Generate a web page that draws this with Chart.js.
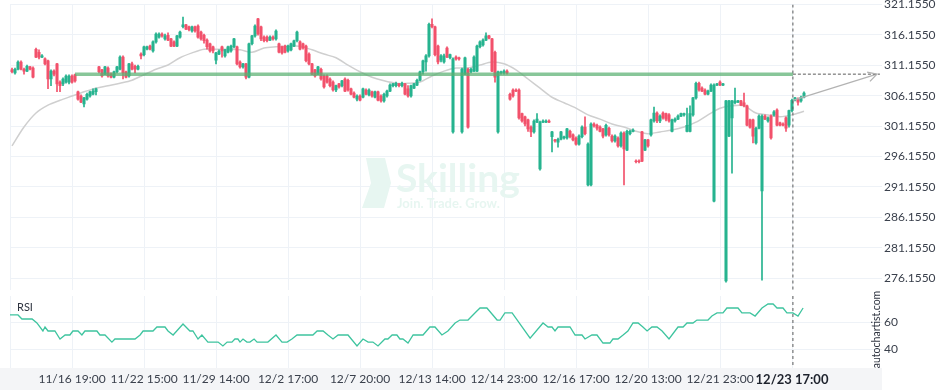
<!DOCTYPE html>
<html>
<head>
<meta charset="utf-8">
<script src="https://cdn.jsdelivr.net/npm/chart.js@4.4.0/dist/chart.umd.min.js"></script>
<style>
  html, body { margin: 0; padding: 0; background: #fff; overflow: hidden; }
  #wrap { position: relative; width: 936px; height: 390px; overflow: hidden; }
  #mainBox { position: absolute; left: 0; top: -10px; width: 936px; height: 300px; }
  #rsiBox { position: absolute; left: 0; top: 290px; width: 936px; height: 100px; }
</style>
</head>
<body>
<div id="wrap">
  <div id="mainBox"><canvas id="main"></canvas></div>
  <div id="rsiBox"><canvas id="rsi"></canvas></div>
</div>
<script>
// time axis labels, one every 24 candles
const timeLabels = ['11/16 19:00', '11/22 15:00', '11/29 14:00', '12/2 17:00', '12/7 20:00', '12/13 14:00',
  '12/14 23:00', '12/16 17:00', '12/20 13:00', '12/21 23:00', '12/23 17:00'];
const labelStep = 24;
const firstCandle = -20;   // index of first candle, label 0 sits at index 0

const open = [
  310.4, 309.9, 310.5, 311.7, 310.5, 310.2, 310.9, 310.7, 313.8, 313.3,
  312.5, 312.2, 311.9, 308.9, 310.2, 311.4, 308.4, 308.1, 308.4, 308.4,
  309.4, 309.6, 306.8, 306.1, 304.8, 305.6, 306.1, 306.4, 306.8, 310.9,
  310.4, 309.7, 310.7, 309.7, 309.2, 310.1, 310.5, 312.5, 310.1, 309.4,
  311.4, 311.0, 310.5, 313.0, 312.9, 313.8, 314.3, 313.5, 315.0, 315.8,
  316.3, 315.5, 316.1, 315.5, 315.0, 314.3, 315.8, 317.5, 317.8, 317.5,
  316.8, 317.5, 317.6, 316.6, 316.1, 315.3, 314.7, 314.2, 312.0, 313.0,
  314.2, 312.7, 313.3, 313.5, 314.2, 314.2, 311.7, 310.9, 311.4, 309.2,
  314.7, 316.0, 318.8, 317.5, 315.8, 315.8, 315.3, 315.8, 315.5, 314.7,
  314.2, 314.3, 313.5, 313.7, 314.3, 315.2, 315.0, 314.7, 314.3, 313.0,
  311.4, 310.4, 309.7, 310.5, 309.4, 309.4, 308.9, 308.4, 307.1, 308.1,
  307.8, 308.9, 308.7, 307.3, 306.6, 305.6, 306.1, 305.9, 307.1, 306.3,
  306.8, 305.9, 306.8, 306.1, 305.3, 306.1, 306.9, 307.8, 307.8, 308.1,
  307.8, 308.1, 307.3, 306.1, 307.4, 307.9, 308.7, 310.1, 311.7, 312.7,
  317.9, 317.5, 314.3, 312.0, 311.7, 314.0, 312.4, 300.2, 312.5, 312.4,
  300.2, 309.7, 310.5, 310.1, 310.2, 310.2, 314.2, 314.5, 315.3, 316.0,
  315.5, 313.3, 300.2, 309.9, 309.9, 310.2, 306.4, 307.1, 307.1, 307.1,
  303.2, 302.7, 302.2, 301.0, 300.2, 301.8, 294.1, 301.8, 301.8, 302.0,
  299.4, 298.9, 298.5, 299.0, 299.2, 299.2, 300.3, 299.7, 299.2, 298.2,
  299.4, 301.0, 291.5, 291.5, 301.5, 301.3, 301.0, 300.7, 299.7, 300.8,
  299.5, 298.7, 299.2, 297.9, 300.0, 297.2, 299.9, 300.3, 295.4, 295.4,
  300.2, 297.2, 298.9, 299.7, 302.0, 303.3, 302.0, 303.3, 303.2, 303.0,
  300.3, 302.0, 302.3, 302.8, 303.0, 300.3, 300.3, 303.0, 305.8, 308.2,
  307.4, 307.1, 306.4, 306.9, 288.8, 307.9, 308.4, 307.9, 275.7, 299.5,
  302.5, 305.0, 305.1, 305.3, 305.0, 304.5, 302.2, 302.2, 298.4, 300.8,
  290.5, 302.8, 302.0, 302.8, 303.0, 303.8, 301.7, 301.5, 302.5, 301.3,
  303.7, 305.4, 305.6, 305.3, 305.9
];
const high = [
  310.7, 310.7, 311.9, 311.9, 310.7, 311.2, 311.0, 310.9, 314.0, 313.7,
  312.9, 312.4, 312.0, 310.4, 310.4, 311.5, 308.6, 309.1, 309.6, 309.6,
  309.6, 309.7, 306.9, 306.3, 305.9, 306.6, 306.9, 307.3, 307.4, 311.0,
  310.5, 311.0, 310.9, 309.9, 310.2, 311.0, 312.7, 312.7, 310.2, 311.5,
  311.7, 311.2, 311.2, 313.2, 314.3, 314.3, 314.5, 315.2, 316.5, 316.5,
  316.5, 316.3, 316.5, 315.6, 315.2, 316.1, 316.8, 319.1, 317.9, 317.6,
  317.6, 317.6, 317.8, 316.8, 316.3, 315.5, 314.8, 314.3, 313.3, 313.7,
  314.3, 313.8, 314.3, 314.5, 315.6, 314.3, 311.9, 311.5, 311.5, 314.8,
  316.1, 317.8, 318.9, 317.6, 316.0, 316.0, 316.0, 316.0, 317.0, 314.8,
  314.3, 314.5, 314.5, 314.8, 315.3, 316.8, 315.2, 314.8, 314.5, 313.2,
  311.5, 310.5, 311.0, 310.7, 309.6, 309.6, 309.1, 308.6, 307.9, 308.2,
  308.7, 309.1, 308.9, 307.4, 306.8, 306.3, 306.3, 307.4, 307.3, 307.3,
  306.9, 306.9, 306.9, 306.3, 306.6, 307.1, 308.1, 308.2, 308.4, 308.2,
  308.4, 308.2, 307.8, 307.9, 308.2, 308.9, 310.2, 312.0, 312.9, 318.1,
  318.8, 317.6, 314.5, 312.9, 313.0, 314.2, 313.0, 312.4, 312.7, 312.5,
  310.7, 312.5, 310.7, 310.7, 312.7, 314.5, 315.2, 315.5, 316.5, 316.1,
  315.6, 313.5, 310.2, 310.2, 310.4, 310.4, 306.6, 307.3, 307.3, 307.3,
  303.3, 302.8, 302.3, 301.2, 302.2, 303.2, 302.0, 302.2, 302.2, 302.2,
  300.3, 299.0, 299.2, 300.3, 299.5, 300.8, 300.5, 299.9, 299.4, 299.7,
  301.2, 302.7, 298.4, 301.7, 301.7, 301.5, 301.2, 300.8, 301.5, 301.0,
  299.7, 299.7, 299.4, 300.2, 300.2, 300.5, 300.5, 300.7, 295.6, 295.6,
  300.3, 299.0, 299.0, 302.3, 304.3, 303.5, 303.0, 303.5, 303.3, 303.2,
  302.3, 302.5, 303.0, 303.3, 303.3, 304.1, 304.5, 305.9, 308.4, 308.4,
  307.6, 307.3, 307.1, 308.1, 308.1, 308.2, 308.6, 308.2, 305.4, 305.4,
  305.4, 307.4, 305.4, 305.4, 306.6, 304.6, 302.3, 302.3, 301.0, 303.0,
  303.0, 303.0, 302.7, 303.0, 303.7, 304.0, 301.8, 301.7, 302.7, 303.8,
  305.6, 305.9, 305.8, 306.1, 306.8
];
const low = [
  309.9, 309.7, 310.4, 310.4, 309.7, 310.1, 310.4, 309.1, 312.4, 312.2,
  312.4, 311.2, 307.3, 307.8, 309.4, 306.8, 306.8, 307.8, 308.2, 308.1,
  308.2, 308.4, 305.4, 305.0, 304.3, 305.4, 305.9, 306.3, 306.3, 309.9,
  309.2, 309.6, 309.2, 309.1, 309.1, 309.9, 310.4, 308.9, 309.1, 309.2,
  310.4, 309.9, 310.4, 312.2, 312.7, 313.7, 313.7, 313.3, 314.8, 315.6,
  315.8, 315.3, 315.2, 314.2, 314.2, 314.2, 315.6, 317.3, 317.0, 316.8,
  316.6, 316.6, 315.6, 315.3, 314.8, 313.8, 313.3, 313.2, 311.4, 312.9,
  312.5, 312.5, 313.2, 313.3, 314.0, 311.2, 310.7, 310.7, 308.9, 309.1,
  314.5, 315.8, 316.1, 315.2, 315.0, 315.0, 315.2, 315.3, 315.3, 313.2,
  313.0, 313.2, 313.3, 313.5, 314.2, 315.0, 313.7, 313.8, 311.7, 311.2,
  309.6, 309.2, 309.6, 308.7, 307.4, 308.2, 307.6, 306.9, 306.8, 307.4,
  307.6, 306.8, 306.9, 306.3, 305.8, 305.3, 305.3, 305.8, 306.3, 306.1,
  305.9, 305.8, 305.3, 305.1, 305.1, 305.9, 306.8, 307.6, 307.6, 307.6,
  307.6, 306.3, 305.9, 305.9, 307.3, 307.8, 308.6, 309.7, 310.2, 312.5,
  317.3, 312.7, 311.4, 311.7, 311.5, 312.4, 312.2, 300.0, 312.0, 312.0,
  300.0, 309.6, 300.8, 309.9, 310.1, 310.1, 314.0, 314.3, 315.2, 315.5,
  310.1, 308.4, 300.0, 309.7, 309.7, 309.7, 305.4, 305.9, 306.8, 302.3,
  301.8, 301.2, 300.3, 299.4, 300.0, 301.7, 293.9, 301.7, 301.7, 301.7,
  296.9, 298.5, 297.7, 298.9, 299.0, 299.0, 299.2, 298.7, 298.0, 298.0,
  299.2, 299.7, 291.3, 291.3, 301.0, 300.5, 300.2, 299.2, 299.5, 299.5,
  298.5, 298.5, 297.7, 297.7, 291.5, 297.1, 299.7, 300.2, 295.1, 295.1,
  295.3, 297.1, 297.7, 299.5, 301.8, 301.7, 301.7, 302.3, 302.0, 301.8,
  300.2, 301.8, 302.2, 302.7, 302.8, 300.2, 300.2, 302.8, 305.6, 306.9,
  306.8, 306.3, 306.3, 306.8, 288.7, 307.8, 307.8, 307.8, 275.5, 299.4,
  293.4, 304.8, 305.0, 304.5, 304.3, 301.2, 300.8, 298.4, 298.2, 300.7,
  275.8, 302.2, 301.8, 299.0, 302.8, 301.2, 301.2, 301.2, 300.3, 301.0,
  303.5, 305.3, 304.6, 305.1, 305.8
];
const close = [
  310.1, 310.5, 311.7, 310.5, 310.2, 311.0, 310.5, 309.2, 312.5, 312.5,
  312.7, 311.4, 308.9, 310.2, 309.7, 308.1, 307.8, 308.9, 309.4, 309.4,
  308.4, 308.6, 305.6, 305.1, 305.8, 306.4, 306.8, 306.9, 307.3, 310.1,
  309.4, 310.9, 309.4, 309.2, 310.1, 310.9, 312.5, 309.9, 309.2, 311.4,
  310.5, 310.5, 311.0, 312.7, 314.2, 314.2, 313.8, 315.0, 316.3, 316.3,
  316.0, 316.0, 315.3, 314.3, 314.3, 316.0, 316.6, 317.8, 317.1, 317.0,
  317.5, 316.8, 315.8, 315.5, 315.2, 314.2, 313.5, 313.5, 313.2, 313.5,
  313.5, 313.7, 314.2, 314.3, 315.5, 311.4, 310.9, 311.4, 309.2, 314.7,
  316.0, 317.6, 316.3, 315.5, 315.2, 315.2, 315.8, 315.5, 316.8, 313.3,
  313.2, 313.3, 314.3, 314.7, 315.2, 316.6, 313.8, 314.0, 311.9, 311.4,
  309.7, 309.4, 310.9, 308.9, 307.6, 308.4, 307.8, 307.1, 307.8, 307.6,
  308.6, 306.9, 307.1, 306.4, 305.9, 306.1, 305.4, 307.3, 306.4, 307.1,
  306.1, 306.8, 305.4, 305.3, 306.4, 306.9, 307.9, 308.1, 308.2, 307.8,
  308.2, 306.4, 306.1, 307.8, 308.1, 308.7, 310.1, 311.9, 312.7, 317.9,
  317.5, 312.9, 311.7, 312.7, 312.7, 312.5, 312.9, 312.2, 312.2, 312.2,
  310.5, 312.4, 301.0, 310.5, 312.5, 314.3, 315.0, 315.3, 316.0, 315.6,
  310.2, 309.2, 310.1, 310.1, 310.2, 309.9, 305.6, 306.1, 306.9, 302.5,
  302.0, 301.5, 300.7, 300.2, 302.0, 302.3, 301.8, 302.0, 302.0, 301.8,
  300.2, 298.7, 299.0, 300.2, 299.4, 300.7, 299.4, 298.9, 298.2, 299.5,
  301.0, 299.9, 298.2, 301.5, 301.2, 300.8, 300.3, 299.5, 301.3, 299.7,
  298.7, 299.5, 297.9, 300.0, 297.4, 300.3, 300.3, 300.5, 295.3, 295.3,
  295.4, 298.9, 297.9, 302.2, 303.3, 302.0, 302.8, 302.5, 302.3, 302.0,
  302.2, 302.3, 302.8, 303.2, 303.2, 301.3, 303.2, 305.8, 308.2, 307.1,
  306.9, 306.4, 306.9, 307.9, 307.9, 308.1, 307.9, 308.1, 305.3, 305.3,
  305.3, 305.3, 305.3, 304.6, 304.5, 301.3, 301.0, 299.5, 300.8, 302.8,
  302.8, 302.3, 302.5, 299.2, 303.5, 301.3, 301.3, 301.3, 300.8, 303.7,
  305.4, 305.8, 305.1, 305.9, 306.6
];

// moving average, read at every 4th candle
const maT = [-20, -16, -12, -8, -4, 0, 4, 8, 12, 16, 20, 24, 28, 32, 36, 40, 44, 48, 52, 56, 60, 64, 68,
  72, 76, 80, 84, 88, 92, 96, 100, 104, 108, 112, 116, 120, 124, 128, 132, 136, 140, 144, 148, 152, 156,
  160, 164, 168, 172, 176, 180, 184, 188, 192, 196, 200, 204, 208, 212, 216, 220, 224, 228, 232, 236, 240, 244];
const maV = [297.9, 301.0, 303.3, 304.6, 305.4, 306.1, 306.8, 307.4, 307.8, 308.2, 308.7, 309.6, 310.5,
  311.2, 312.4, 313.2, 313.8, 313.8, 313.8, 313.7, 313.3, 314.0, 314.2, 314.3, 314.3, 313.7, 313.0, 312.4,
  311.2, 310.1, 309.2, 308.6, 308.2, 308.2, 308.4, 309.4, 310.2, 310.7, 310.7, 311.2, 311.7, 311.4, 310.4,
  308.9, 307.4, 305.9, 305.0, 304.1, 303.0, 302.3, 301.5, 301.0, 300.3, 299.9, 300.2, 300.5, 301.0, 301.8,
  303.0, 304.1, 304.5, 304.5, 303.3, 303.0, 302.7, 303.0, 303.6];

// RSI
const rsiT = [-20.7, -18, -16.7, -13.3, -11.7, -9.7, -9, -8, -5.7, -4, -2.3, -0.7, 0.3, 2, 3.3, 4.3, 8.3, 9.3,
  11, 13.3, 14.3, 21, 22.7, 23.7, 27, 28.3, 31, 32, 33.7, 37, 39.3, 40.3, 42, 43.3, 45.3, 48.7, 50.3, 51.7,
  53.3, 54.3, 55.3, 56, 57, 58.3, 59.3, 60.7, 61.7, 65.3, 68, 70, 71.7, 73.3, 75, 80.3, 81.7, 83.7, 85.3, 87,
  88.7, 92, 95, 97, 98.7, 100.3, 102, 104.3, 105.3, 106.7, 108.3, 109.3, 110.3, 112, 113.7, 117, 119.3, 121,
  123.3, 125.3, 127.7, 129.3, 132, 134.3, 136, 138.3, 141.7, 142.7, 144.3, 146.7, 152.7, 157, 158.7, 160, 161,
  162, 166, 167.7, 170, 171, 173.3, 175, 177, 179.3, 180.3, 182, 183.7, 185.3, 187, 188.7, 190.3, 191.7,
  193.3, 195, 196.7, 199, 202, 203.7, 205, 207, 208.3, 212, 213.3, 215, 217, 218.3, 222, 223.3, 226, 227.7,
  230, 232, 233.7, 235, 237, 238.3, 240.3, 242, 243.7];
const rsiV = [65.5, 65.5, 62.5, 62.5, 59.5, 53.5, 56.5, 53.5, 53.5, 47.5, 50.5, 50.5, 53.5, 53.5, 50.5, 53.5,
  53.5, 50.5, 50.5, 45.2, 47.5, 47.5, 50.5, 53.5, 53.5, 56.5, 56.5, 53.5, 50.5, 58.7, 53.5, 53.5, 47.5, 50.5,
  45.2, 45.2, 42.3, 45.2, 45.2, 47.5, 47.5, 45.2, 47.5, 45.2, 45.2, 47.5, 45.2, 45.2, 50.5, 45.2, 45.2, 47.5,
  50.5, 50.5, 53.5, 53.5, 50.5, 47.5, 50.5, 50.5, 42.3, 47.5, 45.2, 45.2, 42.3, 47.5, 47.5, 50.5, 50.5, 47.5,
  47.5, 44.5, 50.5, 50.5, 56.5, 56.5, 50.5, 53.5, 59.5, 61.7, 61.7, 67.0, 70.7, 70.7, 61.7, 61.7, 67.0, 67.0,
  48.2, 59.5, 56.5, 56.5, 53.5, 56.5, 56.5, 50.5, 50.5, 47.5, 50.5, 50.5, 44.5, 44.5, 47.5, 47.5, 50.5, 53.5,
  59.5, 59.5, 56.5, 53.5, 56.5, 56.5, 53.5, 47.5, 56.5, 56.5, 59.5, 59.5, 61.7, 61.7, 64.7, 67.0, 67.0, 70.7,
  70.7, 67.0, 67.0, 64.7, 70.7, 73.7, 73.7, 70.7, 70.7, 67.0, 67.0, 64.7, 70.7];

// pattern: resistance level, last bar, forecast target
const levelPrice = 309.7;
const levelFrom = 1;
const nowT = 240.3;
const nowPrice = 305.4;
const targetT = 268.3;
const targetPrice = 309.7;

const priceTicks = [276.155, 281.155, 286.155, 291.155, 296.155, 301.155, 306.155, 311.155, 316.155, 321.155];
const rsiTicks = [40, 60];

const xMin = -20.67, xMax = 270;
const priceMin = 274.2, priceMax = 321.155;
const rsiMin = 25.8, rsiMax = 79.7;

const green = '#26b38f';
const red = '#f2516b';
const gridColor = '#eef2f7';
const axisText = '#3a404c';

Chart.defaults.font.family = 'Lato';
Chart.defaults.animation = false;

const candleColor = open.map((o, i) => close[i] >= o ? green : red);
const bodies = open.map((o, i) => ({ x: firstCandle + i, y: [o, close[i]] }));
const wicks = open.map((o, i) => ({ x: firstCandle + i, y: [low[i], high[i]] }));

const timeTicks = s => {
  s.ticks = [{ value: xMin }].concat(timeLabels.map((l, k) => ({ value: k * labelStep })));
};

const watermark = {
  id: 'watermark',
  beforeDatasetsDraw(chart) {
    const c = chart.ctx;
    c.save();
    c.fillStyle = '#e7f6f1';
    c.beginPath();
    c.moveTo(366, 168); c.lineTo(385, 168); c.lineTo(391, 193); c.lineTo(384, 218);
    c.lineTo(362, 218); c.lineTo(371, 193); c.closePath();
    c.fill();
    c.font = 'bold 39px Lato';
    c.textBaseline = 'alphabetic';
    c.fillText('Skilling', 396, 202);
    c.font = 'bold 13px Lato';
    c.fillText('Join. Trade. Grow.', 397, 218);
    c.restore();
  }
};

const arrowHead = {
  id: 'arrowHead',
  afterDatasetsDraw(chart) {
    const xs = chart.scales.x, ys = chart.scales.y;
    const x1 = xs.getPixelForValue(nowT), y1 = ys.getPixelForValue(nowPrice);
    const x2 = xs.getPixelForValue(targetT), y2 = ys.getPixelForValue(targetPrice);
    const a = Math.atan2(y2 - y1, x2 - x1);
    const c = chart.ctx;
    c.save();
    c.strokeStyle = '#b3b3b3';
    c.lineWidth = 1.3;
    c.beginPath();
    c.moveTo(x2 - 10 * Math.cos(a - 0.5), y2 - 10 * Math.sin(a - 0.5));
    c.lineTo(x2, y2);
    c.lineTo(x2 - 10 * Math.cos(a + 0.5), y2 - 10 * Math.sin(a + 0.5));
    c.stroke();
    c.restore();
  }
};

new Chart(document.getElementById('main'), {
  type: 'bar',
  data: {
    datasets: [
      { type: 'line', data: [{ x: levelFrom, y: levelPrice }, { x: nowT, y: levelPrice }],
        borderColor: 'rgba(90,176,114,0.72)', borderWidth: 3.5, pointRadius: 0, order: 0 },
      { type: 'line', data: [{ x: nowT, y: levelPrice }, { x: targetT + 1, y: levelPrice }],
        borderColor: '#5a5a5a', borderWidth: 1, borderDash: [3, 2], pointRadius: 0, order: 0 },
      { type: 'line', data: [{ x: nowT, y: priceMax }, { x: nowT, y: priceMin }],
        borderColor: '#5a5a5a', borderWidth: 1, borderDash: [3, 3], pointRadius: 0, order: 0 },
      { type: 'line', data: [{ x: nowT, y: nowPrice }, { x: targetT, y: targetPrice }],
        borderColor: '#b3b3b3', borderWidth: 1.3, pointRadius: 0, order: 0 },
      { type: 'bar', data: bodies, backgroundColor: candleColor, barThickness: 2.4,
        grouped: false, borderWidth: 0, order: 1 },
      { type: 'bar', data: wicks, backgroundColor: candleColor, barThickness: 1,
        grouped: false, borderWidth: 0, order: 2 },
      { type: 'line', data: maT.map((t, i) => ({ x: t, y: maV[i] })),
        borderColor: '#cfcfcf', borderWidth: 1.5, pointRadius: 0, tension: 0.3, order: 3 }
    ]
  },
  options: {
    responsive: true,
    maintainAspectRatio: false,
    events: [],
    layout: { padding: { top: 14.5, left: 10, right: 0, bottom: 0 } },
    plugins: { legend: { display: false }, tooltip: { enabled: false } },
    scales: {
      x: {
        type: 'linear', min: xMin, max: xMax, offset: false,
        afterBuildTicks: timeTicks,
        afterFit: s => { s.height = 0; },
        grid: { color: gridColor, drawTicks: false, offset: false },
        border: { display: false },
        ticks: { display: false }
      },
      y: {
        position: 'right', min: priceMin, max: priceMax,
        afterBuildTicks: s => { s.ticks = priceTicks.map(v => ({ value: v })); },
        afterFit: s => { s.width = 54; s.paddingTop = 0; s.paddingBottom = 0; },
        grid: { color: gridColor, drawTicks: false },
        border: { display: false },
        ticks: { padding: 2, color: axisText, font: { size: 12 }, callback: v => v.toFixed(4) }
      }
    }
  },
  plugins: [watermark, arrowHead]
});

const rsiDecor = {
  id: 'rsiDecor',
  beforeDraw(chart) {
    const c = chart.ctx, a = chart.chartArea;
    c.save();
    c.fillStyle = '#f4f5f7';
    c.fillRect(0, a.bottom, a.right, chart.height - a.bottom);
    c.restore();
  },
  afterDraw(chart) {
    const c = chart.ctx;
    c.save();
    c.fillStyle = '#2f3440';
    c.font = '11px Lato';
    c.textBaseline = 'middle';
    c.fillText('RSI', 17, 17);
    c.translate(877, 39.5);
    c.rotate(-Math.PI / 2);
    c.textAlign = 'center';
    c.font = '10.5px Lato';
    c.fillText('autochartist.com', 0, 0);
    c.restore();
  }
};

new Chart(document.getElementById('rsi'), {
  type: 'line',
  data: {
    datasets: [
      { data: [{ x: nowT, y: rsiMax }, { x: nowT, y: rsiMin }],
        borderColor: '#5a5a5a', borderWidth: 1, borderDash: [3, 3], pointRadius: 0 },
      { data: rsiT.map((t, i) => ({ x: t, y: rsiV[i] })),
        borderColor: '#3ec49f', borderWidth: 1.3, pointRadius: 0, tension: 0 }
    ]
  },
  options: {
    responsive: true,
    maintainAspectRatio: false,
    events: [],
    layout: { padding: { top: 6, left: 10, right: 0, bottom: 0 } },
    plugins: { legend: { display: false }, tooltip: { enabled: false } },
    scales: {
      x: {
        type: 'linear', min: xMin, max: xMax,
        afterBuildTicks: timeTicks,
        afterFit: s => { s.height = 22; },
        grid: { color: gridColor, drawTicks: false },
        border: { display: false },
        ticks: {
          autoSkip: false, maxRotation: 0, padding: 4,
          color: ctx => ctx.tick && ctx.tick.value === 10 * labelStep ? '#1d222c' : axisText,
          font: ctx => ctx.tick && ctx.tick.value === 10 * labelStep ? { size: 13, weight: 'bold' } : { size: 12 },
          callback: v => (v >= 0 && v % labelStep === 0) ? timeLabels[v / labelStep] : ''
        }
      },
      y: {
        position: 'right', min: rsiMin, max: rsiMax,
        afterBuildTicks: s => { s.ticks = rsiTicks.map(v => ({ value: v })); },
        afterFit: s => { s.width = 54; s.paddingTop = 0; s.paddingBottom = 0; },
        grid: { color: gridColor, drawTicks: false },
        border: { display: false },
        ticks: { padding: 2, color: axisText, font: { size: 12 } }
      }
    }
  },
  plugins: [rsiDecor]
});
</script>
</body>
</html>
